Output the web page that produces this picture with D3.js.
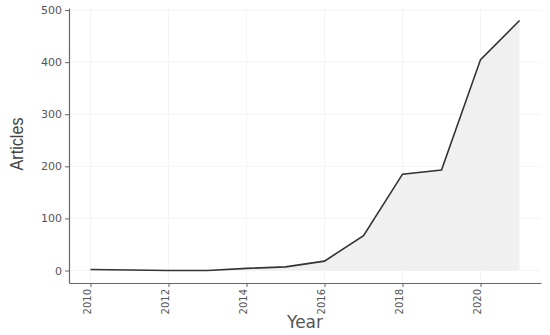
<!DOCTYPE html>
<html>
<head>
<meta charset="utf-8">
<script src="https://cdn.jsdelivr.net/npm/d3@7"></script>
<style>
body { margin: 0; background: #fff; }
</style>
</head>
<body>
<div id="chart"></div>
<script>
var years = [2010, 2011, 2012, 2013, 2014, 2015, 2016, 2017, 2018, 2019, 2020, 2021]
var articles = [2, 1, 0, 0, 4, 7, 18, 67, 185, 193, 405, 480]
var xTicks = [2010, 2012, 2014, 2016, 2018, 2020]
var yTicks = [0, 100, 200, 300, 400, 500]

var data = years.map(function(d, i) { return { year: d, value: articles[i] } })

var margin = { top: 8, right: 9, bottom: 52, left: 69 }
var width = 550 - margin.left - margin.right
var height = 335 - margin.top - margin.bottom

var svg = d3.select("#chart").append("svg")
	.attr("width", 550)
	.attr("height", 335)

var g = svg.append("g")
	.attr("transform", "translate(" + margin.left + "," + margin.top + ")")

var x = d3.scaleLinear()
	.domain([2009.45, 2021.55])
	.range([0, width])

var y = d3.scaleLinear()
	.domain([-24, 504])
	.range([height, 0])

// faint grid
g.selectAll(".vgrid")
	.data(xTicks)
	.enter().append("line")
	.attr("x1", d => x(d)).attr("x2", d => x(d))
	.attr("y1", 0).attr("y2", height)
	.attr("stroke", "#f4f4f4")
	.attr("stroke-width", 1)

g.selectAll(".hgrid")
	.data(yTicks)
	.enter().append("line")
	.attr("x1", 0).attr("x2", width)
	.attr("y1", d => y(d)).attr("y2", d => y(d))
	.attr("stroke", "#f4f4f4")
	.attr("stroke-width", 1)

// area + line
var area = d3.area()
	.x(d => x(d.year))
	.y0(y(0))
	.y1(d => y(d.value))

g.append("path")
	.datum(data)
	.attr("d", area)
	.attr("fill", "#f0f0f0")

var line = d3.line()
	.x(d => x(d.year))
	.y(d => y(d.value))

g.append("path")
	.datum(data)
	.attr("d", line)
	.attr("fill", "none")
	.attr("stroke", "#333")
	.attr("stroke-width", 1.6)

// axes
var xAxis = g.append("g")
	.attr("transform", "translate(0," + height + ")")
	.call(d3.axisBottom(x).tickValues(xTicks).tickFormat(d3.format("d")).tickSize(4).tickSizeOuter(0))

xAxis.selectAll("text")
	.attr("transform", "rotate(-90)")
	.attr("text-anchor", "end")
	.attr("x", -6)
	.attr("y", -3)
	.attr("dy", "0.32em")

var yAxis = g.append("g")
	.call(d3.axisLeft(y).tickValues(yTicks).tickSize(4).tickSizeOuter(0))

svg.selectAll(".domain").attr("stroke", "#666").attr("stroke-width", 1.2)
svg.selectAll(".tick line").attr("stroke", "#666")
svg.selectAll(".tick text")
	.attr("fill", "#555")
	.style("font-family", "DejaVu Sans")
	.style("font-size", "11px")
xAxis.selectAll("text").style("font-size", "10px")

// titles
svg.append("text")
	.attr("x", margin.left + x(2015.5))
	.attr("y", 328)
	.attr("text-anchor", "middle")
	.attr("fill", "#555")
	.style("font-family", "DejaVu Sans")
	.style("font-size", "17px")
	.text("Year")

svg.append("text")
	.attr("transform", "translate(23,144) rotate(-90)")
	.attr("text-anchor", "middle")
	.attr("fill", "#444")
	.attr("textLength", 53)
	.attr("lengthAdjust", "spacingAndGlyphs")
	.style("font-family", "Liberation Sans")
	.style("font-size", "19px")
	.text("Articles")
</script>
</body>
</html>
